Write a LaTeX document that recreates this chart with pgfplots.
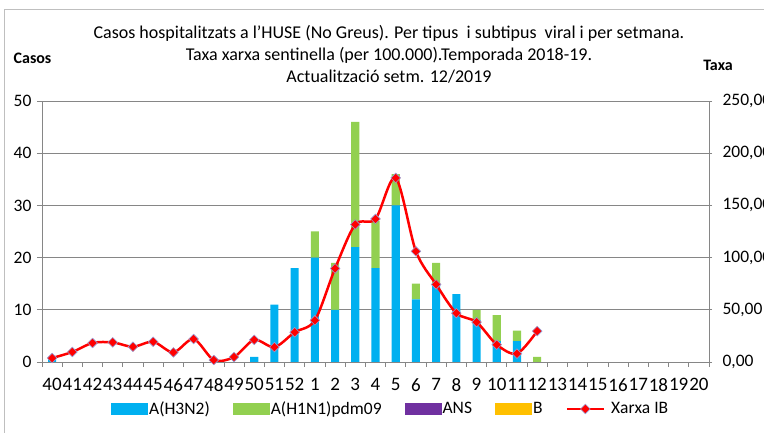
\documentclass[border=0pt]{standalone}
\usepackage{fontspec}
\setmainfont{Carlito}
\newfontfamily\boldfam{Carlito}
\usepackage{pgfplots}
\usepackage{pgfplotstable}
\pgfplotsset{compat=1.18}
\definecolor{cblue}{HTML}{00B0F0}
\definecolor{cgreen}{HTML}{92D050}
\definecolor{cpurple}{HTML}{7030A0}
\definecolor{corange}{HTML}{FFC000}
\definecolor{cred}{HTML}{FF0000}
\definecolor{cgrid}{HTML}{868686}
\definecolor{cmark}{HTML}{9A9AD0}
\pgfplotsset{arealeg/.style={legend image code/.code={\fill[##1] (0pt,-6.3pt) rectangle (37pt,6.3pt);}},
  lineleg/.style={legend image code/.code={\draw[##1, mark=none] (0pt,0pt) -- (37pt,0pt); \draw[##1] plot coordinates {(18.5pt,0pt)};}}}
\pgfplotstableread{
x h3 h1
0 1 0
1 0 0
2 0 0
3 0 0
4 0 0
5 0 0
6 0 0
7 0 0
8 0 0
9 0 0
10 1 0
11 11 0
12 18 0
13 20 5
14 10 9
15 22 24
16 18 9
17 30 6
18 12 3
19 15 4
20 13 0
21 8 2
22 4 5
23 4 2
24 0 1
25 0 0
26 0 0
27 0 0
28 0 0
29 0 0
30 0 0
31 0 0
32 0 0
}\bartable
\pgfplotstableread{
x rate
0 3.8
1 9.6
2 18.2
3 18.8
4 14.6
5 19.4
6 9.2
7 22.0
8 1.9
9 4.7
10 21.2
11 14.2
12 28.5
13 39.9
14 89.6
15 131.7
16 137.0
17 176.3
18 106.0
19 74.3
20 46.8
21 38.2
22 16.6
23 8.0
24 29.6
}\ratetable
\begin{document}
\begin{tikzpicture}[font=\fontsize{17.5}{20}\selectfont]
\path[use as bounding box] (0,0) rectangle (764pt,433pt);
\draw[gray!50, line width=0.8pt] (4pt,-2pt) -- (4pt,424pt) -- (766pt,424pt);
\begin{axis}[
  at={(42pt,71pt)}, anchor=south west, scale only axis,
  width=667pt, height=261pt,
  xmin=-0.5, xmax=32.5, ymin=0, ymax=50,
  axis x line*=bottom, axis y line*=left,
  axis line style={cgrid, line width=0.8pt},
  ytick={0,10,20,30,40,50}, ymajorgrids,
  major grid style={cgrid, line width=0.8pt},
  xtick={0,...,32},
  xticklabels={40,41,42,43,44,45,46,47,48,49,50,51,52,1,2,3,4,5,6,7,8,9,10,11,12,13,14,15,16,17,18,19,20},
  xticklabel style={yshift=-8pt, font=\fontsize{19}{21}\selectfont},
  yticklabel style={xshift=-2pt},
  minor xtick={-0.5,0.5,...,32.5},
  tick align=outside, major tick length=5pt, minor tick length=5pt,
  every tick/.style={cgrid, line width=0.8pt},
  major x tick style={draw=none},
  /pgf/number format/assume math mode=true,
  ybar stacked, bar width=0.4,
  legend columns=5,
  legend cell align=left,
  legend style={at={(0.522,-0.18)}, anchor=center, draw=none, fill=none,
    nodes={inner sep=1pt},
    /tikz/every even column/.append style={column sep=22pt}},
]
\addplot[fill=cblue, draw=none, arealeg] table[x=x,y=h3]{\bartable};
\addlegendentry{A(H3N2)}
\addplot[fill=cgreen, draw=none, arealeg] table[x=x,y=h1]{\bartable};
\addlegendentry{A(H1N1)pdm09}
\addlegendimage{fill=cpurple, draw=none, arealeg}
\addlegendentry{ANS}
\addlegendimage{fill=corange, draw=none, arealeg}
\addlegendentry{B}
\addlegendimage{cred, line width=2.5pt, mark=square*, mark size=3.4pt,
  mark options={rotate=45, fill=cred, draw=cmark, line width=0.6pt}, lineleg}
\addlegendentry{\hspace{5pt}Xarxa IB}
\end{axis}
\begin{axis}[
  at={(42pt,71pt)}, anchor=south west, scale only axis,
  width=667pt, height=261pt,
  xmin=-0.5, xmax=32.5, ymin=0, ymax=250,
  axis y line*=right, axis x line=none,
  axis line style={cgrid, line width=0.8pt},
  ytick={0,50,100,150,200,250},
  tick align=outside, major tick length=3pt,
  every tick/.style={cgrid, line width=0.8pt},
  yticklabel style={xshift=7pt, /pgf/number format/.cd, fixed, fixed zerofill, precision=2, use comma},
  /pgf/number format/assume math mode=true,
]
\addplot[cred, line width=2.5pt, smooth, tension=0.5, mark=square*, mark size=3.4pt,
  mark options={rotate=45, fill=cred, draw=cmark, line width=0.6pt}]
  table[x=x,y=rate]{\ratetable};
\end{axis}
\begin{scope}[font=\fontsize{18}{21}\selectfont]
\node[anchor=base] at (389pt,394pt) {Casos hospitalitzats a l'HUSE (No Greus). Per tipus\ \ i subtipus\ \ viral i per setmana.};
\node[anchor=base] at (389pt,372pt) {Taxa xarxa sentinella (per 100.000).Temporada 2018-19.};
\node[anchor=base] at (389pt,350pt) {Actualització setm. 12/2019};
\end{scope}
\node[anchor=base, font=\boldfam\bfseries\fontsize{16}{18}\selectfont] at (32.5pt,369pt) {Casos};
\node[anchor=base, font=\boldfam\bfseries\fontsize{16}{18}\selectfont] at (718pt,362pt) {Taxa};
\end{tikzpicture}
\end{document}
